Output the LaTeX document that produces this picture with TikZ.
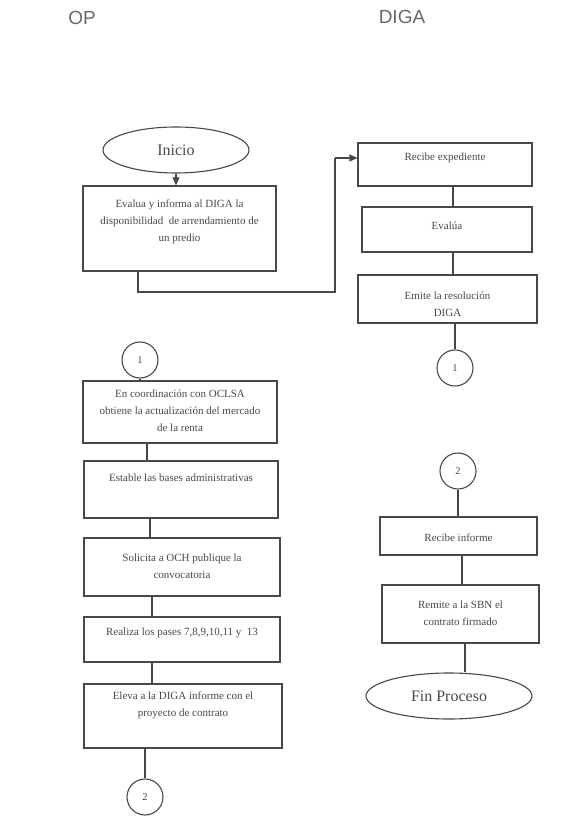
\documentclass[tikz,border=0pt]{standalone}
\usepackage{fontspec}
\setmainfont{Liberation Serif}
\newfontfamily\headfont{Liberation Sans}
\usetikzlibrary{arrows.meta,shapes.geometric,calc}
\definecolor{ink}{RGB}{72,72,72}
\definecolor{headink}{RGB}{105,105,105}

\begin{document}
\begin{tikzpicture}[x=1pt,y=-1pt,
  every node/.style={text=ink},
  stepbox/.style={draw=ink, line width=1.1pt, rectangle, inner sep=0pt},
  boxtext/.style={align=center, inner sep=0pt, font=\fontsize{11}{17}\selectfont},
  terminal/.style={draw=ink, line width=1.1pt, ellipse, inner sep=0pt, font=\fontsize{16}{18}\selectfont},
  joint/.style={draw=ink, line width=1.1pt, circle, minimum size=36pt, inner sep=0pt, font=\fontsize{10.5}{12}\selectfont},
  link/.style={draw=ink, line width=1.1pt},
  flow/.style={link, -{Triangle[length=8pt,width=7pt]}},
  lane/.style={text=headink, font=\headfont\fontsize{19}{21}\selectfont}
]
\useasboundingbox (0,0) rectangle (560,818);

% lane titles
\node[lane] (hop) at (82,18) {OP};
\node[lane] (hdiga) at (402,17) {DIGA};

% ---------- OP lane ----------
\node[terminal, minimum width=146pt, minimum height=46pt] (ini) at (176,150) {Inicio};

\node[stepbox, minimum width=193pt, minimum height=85pt] (b1) at (179.5,228.5) {};
\node[boxtext] (t1) at (179.5,222) {Evalua y informa al DIGA la\\disponibilidad\ \ de arrendamiento de\\un predio};

\node[joint] (c1l) at (140,360) {1};

\node[stepbox, minimum width=194pt, minimum height=62pt] (coord) at (180,412) {};
\node[boxtext] (tcoord) at (180,411) {En coordinación con OCLSA\\obtiene la actualización del mercado\\de la renta};

\node[stepbox, minimum width=194pt, minimum height=57pt] (bases) at (181,489.5) {};
\node[boxtext] (tbases) at (181,478) {Estable las bases administrativas};

\node[stepbox, minimum width=196pt, minimum height=58pt] (soli) at (182,567) {};
\node[boxtext] (tsoli) at (182,566) {Solicita a OCH publique la\\convocatoria};

\node[stepbox, minimum width=196pt, minimum height=45pt] (real) at (182,639.5) {};
\node[boxtext] (treal) at (182,633) {Realiza los pases 7,8,9,10,11 y\ \ 13};

\node[stepbox, minimum width=198pt, minimum height=64pt] (elev) at (183,716) {};
\node[boxtext] (telev) at (183,705) {Eleva a la DIGA informe con el\\proyecto de contrato};

\node[joint] (c2l) at (145,797) {2};

% ---------- DIGA lane ----------
\node[stepbox, minimum width=174pt, minimum height=43pt] (rec) at (445,164.5) {};
\node[boxtext] (trec) at (445,158) {Recibe expediente};

\node[stepbox, minimum width=170pt, minimum height=45pt] (eva) at (447,229.5) {};
\node[boxtext] (teva) at (447,226) {Evalúa};

\node[stepbox, minimum width=179pt, minimum height=48pt] (emi) at (447.5,299) {};
\node[boxtext] (temi) at (447.5,304) {Emite la resolución\\DIGA};

\node[joint] (c1r) at (455,368) {1};

\node[joint] (c2r) at (458,471) {2};

\node[stepbox, minimum width=157pt, minimum height=38pt] (rinf) at (458.5,536) {};
\node[boxtext] (trinf) at (458.5,538) {Recibe informe};

\node[stepbox, minimum width=157pt, minimum height=58pt] (rem) at (460.5,614) {};
\node[boxtext] (trem) at (460.5,613) {Remite a la SBN el\\contrato firmado};

\node[terminal, minimum width=166pt, minimum height=46pt] (fin) at (449,696) {Fin Proceso};

% connector columns and bends
\coordinate (xa) at (147,0);
\coordinate (xb) at (150,0);
\coordinate (xc) at (152,0);
\coordinate (xd) at (453,0);
\coordinate (xe) at (462,0);
\coordinate (xf) at (465,0);
\coordinate (k1) at (138,292);
\coordinate (k2) at (335,292);
\coordinate (k3) at (335,158);

% ---------- connectors ----------
\draw[flow] (ini.south) -- (ini.south |- b1.north);
\draw[link] (b1.south -| k1) -- (k1) -- (k2) -- (k3);
\draw[flow] (k3) -- (k3 -| rec.west);

\draw[link] (rec.south -| xd) -- (eva.north -| xd);
\draw[link] (eva.south -| xd) -- (emi.north -| xd);
\draw[link] (emi.south -| c1r) -- (c1r.north);

\draw[link] (c1l.south) -- (c1l.south |- coord.north);
\draw[link] (coord.south -| xa) -- (bases.north -| xa);
\draw[link] (bases.south -| xb) -- (soli.north -| xb);
\draw[link] (soli.south -| xc) -- (real.north -| xc);
\draw[link] (real.south -| xc) -- (elev.north -| xc);
\draw[link] (elev.south -| c2l) -- (c2l.north);

\draw[link] (c2r.south) -- (c2r.south |- rinf.north);
\draw[link] (rinf.south -| xe) -- (rem.north -| xe);
\draw[link] (rem.south -| xf) -- (fin.north -| xf);
\end{tikzpicture}
\end{document}
